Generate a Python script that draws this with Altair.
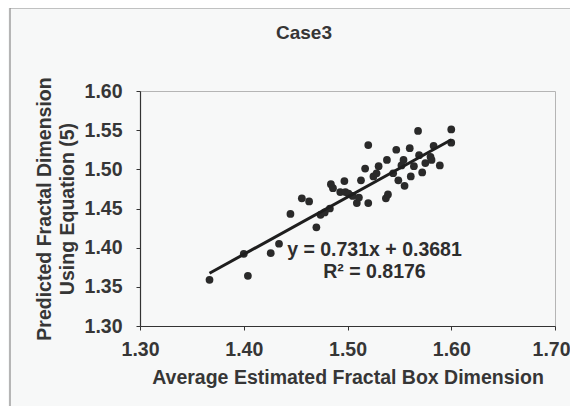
import altair as alt
import pandas as pd

x_vals = [1.367, 1.400, 1.404, 1.426, 1.434, 1.445, 1.456, 1.463, 1.470, 1.474,
          1.478, 1.483, 1.484, 1.486, 1.493, 1.497, 1.498, 1.501, 1.505, 1.509,
          1.511, 1.513, 1.517, 1.520, 1.520, 1.525, 1.528, 1.530, 1.537, 1.538,
          1.539, 1.544, 1.547, 1.549, 1.552, 1.554, 1.555, 1.560, 1.561, 1.564,
          1.568, 1.569, 1.572, 1.575, 1.580, 1.581, 1.583, 1.589, 1.600, 1.600]
y_vals = [1.359, 1.392, 1.364, 1.393, 1.405, 1.443, 1.463, 1.459, 1.426, 1.442,
          1.445, 1.450, 1.481, 1.476, 1.471, 1.485, 1.471, 1.469, 1.466, 1.457,
          1.464, 1.486, 1.501, 1.531, 1.457, 1.491, 1.495, 1.504, 1.463, 1.512,
          1.468, 1.495, 1.525, 1.486, 1.505, 1.512, 1.479, 1.527, 1.491, 1.504,
          1.549, 1.518, 1.496, 1.508, 1.516, 1.512, 1.530, 1.505, 1.551, 1.534]

# Trendline as printed on the chart
slope = 0.731
intercept = 0.3681
eq_labels = ["y = 0.731x + 0.3681", "R\u00b2 = 0.8176"]
eq_x = [1.526, 1.526]
eq_y = [1.397, 1.369]

chart_title = "Case3"
x_title = "Average Estimated Fractal Box Dimension"
y_title = ["Predicted Fractal Dimension", "Using Equation (5)"]
x_ticks = [1.30, 1.40, 1.50, 1.60, 1.70]
y_ticks = [1.30, 1.35, 1.40, 1.45, 1.50, 1.55, 1.60]

FONT = "Liberation Sans"
TXT = "#363636"
FS = 19.5

pts = pd.DataFrame({"x": x_vals, "y": y_vals})
line_df = pd.DataFrame({"x": [min(x_vals), max(x_vals)]})
eq_df = pd.DataFrame({"label": eq_labels, "x": eq_x, "y": eq_y})
title_df = pd.DataFrame({"label": [chart_title]})

xscale = alt.Scale(domain=[1.30, 1.70], nice=False, zero=False)
yscale = alt.Scale(domain=[1.30, 1.60], nice=False, zero=False)

common = dict(format=".2f", grid=False, tickSize=4, labelFontSize=FS,
              titleFontSize=FS, labelFont=FONT, titleFont=FONT,
              labelColor=TXT, titleColor=TXT, labelFontWeight="bold",
              titleFontWeight="bold", domainColor="#333", tickColor="#333",
              domainWidth=1.2, labelFlush=False, labelOverlap=False)
xaxis = alt.Axis(title=x_title, values=x_ticks, labelPadding=10,
                 titlePadding=10,
                 labelOffset={"condition": {"test": "datum.value >= 1.69", "value": -4},
                              "value": 0},
                 **common)
yaxis = alt.Axis(title=y_title, values=y_ticks, labelPadding=14,
                 titlePadding=7, titleLineHeight=22.5, **common)

frame = alt.Chart(pd.DataFrame({"a": [0]})).mark_rect(
    filled=False, stroke="#8a8a8a", strokeWidth=1.2
).encode(x=alt.value(-130), x2=alt.value(450), y=alt.value(-83), y2=alt.value(317))

title = alt.Chart(title_df).mark_text(
    font=FONT, fontSize=19, fontWeight="bold", color=TXT,
    align="center", baseline="middle"
).encode(x=alt.value(164), y=alt.value(-58), text="label:N")

points = alt.Chart(pts).mark_circle(size=60, color="#2a2a2a", opacity=1).encode(
    x=alt.X("x:Q", scale=xscale, axis=xaxis),
    y=alt.Y("y:Q", scale=yscale, axis=yaxis),
)

trend = alt.Chart(line_df).transform_calculate(
    y=f"{slope} * datum.x + {intercept}"
).mark_line(color="#1e1e1e", strokeWidth=3).encode(
    x=alt.X("x:Q", scale=xscale, axis=xaxis),
    y=alt.Y("y:Q", scale=yscale, axis=yaxis),
)

eq = alt.Chart(eq_df).mark_text(
    font=FONT, fontSize=FS, fontWeight="bold", color="#2e2e2e",
    align="center", baseline="middle"
).encode(
    x=alt.X("x:Q", scale=xscale, axis=xaxis),
    y=alt.Y("y:Q", scale=yscale, axis=yaxis),
    text="label:N",
)

chart = alt.layer(frame, title, points, trend, eq).properties(
    width=415, height=235,
    padding={"left": 132, "top": 83, "right": 15, "bottom": 80},
    autosize=alt.AutoSizeParams(type="none"),
).configure(background="#f7f8f8").configure_view(stroke="#b5b5b5", strokeWidth=1)

chart.save("out.html", embed_options={"renderer": "svg", "actions": False})
